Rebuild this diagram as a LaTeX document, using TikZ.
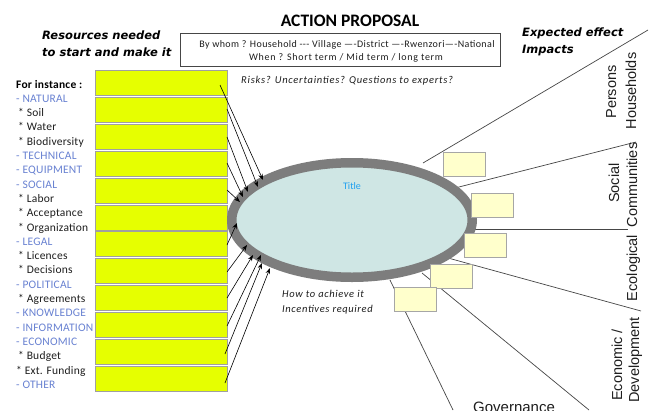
\documentclass[tikz,border=0pt]{standalone}
\usepackage{fontspec}
\setmainfont{Carlito}
\newfontfamily\verd{DejaVu Sans}
\newfontfamily\arialf{Liberation Sans}
\usetikzlibrary{arrows.meta}
\definecolor{ybox}{RGB}{230,255,0}
\definecolor{yborder}{RGB}{160,160,160}
\definecolor{catblue}{RGB}{105,130,210}
\definecolor{txt}{RGB}{30,30,30}
\definecolor{ringgray}{RGB}{125,125,125}
\definecolor{ellfill}{RGB}{207,230,228}
\definecolor{titleblue}{RGB}{30,160,240}
\definecolor{sfill}{RGB}{255,255,204}
\definecolor{sborder}{RGB}{166,166,166}
\definecolor{rline}{RGB}{70,70,70}
\tikzset{
  lefttxt/.style={anchor=base west, inner sep=0pt, font=\fontsize{11.5}{13}\selectfont\addfontfeature{LetterSpace=2}},
  yellowbox/.style={draw=yborder, line width=0.8pt, fill=ybox, minimum width=132pt, minimum height=25pt, anchor=north west, inner sep=0pt},
  smallbox/.style={draw=sborder, line width=0.8pt, fill=sfill, minimum width=42pt, minimum height=24pt, inner sep=0pt},
  resarrow/.style={draw=black, line width=0.6pt, -{Stealth[length=6pt,width=4.5pt]}},
  sector/.style={draw=rline, line width=0.7pt},
  sidelabel/.style={anchor=base, rotate=90, inner sep=0pt, font=\arialf\fontsize{14.5}{16}\selectfont, text=txt},
  bolditalic/.style={anchor=base west, inner sep=0pt, font=\verd\bfseries\itshape\fontsize{11.5}{13}\selectfont, text=black},
  itnote/.style={anchor=base west, inner sep=0pt, font=\itshape\fontsize{10.5}{12}\selectfont\addfontfeature{LetterSpace=6}, text=txt}
}
\begin{document}
\begin{tikzpicture}[x=1pt,y=-1pt]
\useasboundingbox (0,0) rectangle (651,410);
\fill[white] (0,0) rectangle (651,410);

% headings
\node[anchor=base, inner sep=0pt, font=\bfseries\fontsize{17.5}{19}\selectfont, text=black] (title) at (350,26) {ACTION PROPOSAL};
\node[bolditalic] (res1) at (42,39) {Resources needed};
\node[bolditalic] (res2) at (42,56) {to start and make it};
\node[bolditalic] (exp1) at (522,36) {Expected effect};
\node[bolditalic] (exp2) at (522,53) {Impacts};

% top box
\node[draw=rline, line width=0.8pt, minimum width=320pt, minimum height=33pt, anchor=north west, inner sep=0pt] (whobox) at (180,33) {};
\node[anchor=base, inner sep=0pt, font=\fontsize{10}{11}\selectfont\addfontfeature{LetterSpace=4}, text=txt] (who1) at (347,47.5) {By whom ? Household {-}{-}{-} Village —{-}District —{-}Rwenzori—{-}National};
\node[anchor=base, inner sep=0pt, font=\fontsize{10}{11}\selectfont\addfontfeature{LetterSpace=7}, text=txt] (who2) at (346,60.5) {When ? Short term / Mid term / long term};
\node[itnote, font=\itshape\fontsize{10.5}{12}\selectfont\addfontfeature{LetterSpace=7}] (risks) at (241,83) {Risks? Uncertainties? Questions to experts?};

% left list
\node[lefttxt, font=\bfseries\fontsize{11.5}{13}\selectfont\addfontfeature{LetterSpace=2}, text=black] (l0) at (16,88) {For instance :};
\foreach \t/\c/\dx [count=\i] in {
  - NATURAL/catblue/0, * Soil/txt/2, * Water/txt/2, * Biodiversity/txt/2,
  - TECHNICAL/catblue/0, - EQUIPMENT/catblue/0, - SOCIAL/catblue/0,
  * Labor/txt/2, * Acceptance/txt/2, * Organization/txt/2,
  - LEGAL/catblue/0, * Licences/txt/2, * Decisions/txt/2,
  - POLITICAL/catblue/0, * Agreements/txt/2,
  - KNOWLEDGE/catblue/0, - INFORMATION/catblue/0, - ECONOMIC/catblue/0,
  * Budget/txt/2, * Ext. Funding/txt/0, - OTHER/catblue/0}
  \node[lefttxt, text=\c] (l\i) at ({16+\dx},{88+14.3*\i}) {\t};

% yellow boxes
\foreach \i in {0,...,11}
  \node[yellowbox] (y\i) at (95,{70+26.9*\i}) {};

% sector lines (behind ellipse)
\coordinate (r1a) at (423,163); \coordinate (r1b) at (648,30);
\coordinate (r2a) at (455,188); \coordinate (r2b) at (636,142);
\coordinate (r3a) at (470,229); \coordinate (r3b) at (628,229);
\coordinate (r4a) at (448,258); \coordinate (r4b) at (641,311);
\coordinate (r5a) at (422,273); \coordinate (r5b) at (589,410);
\coordinate (r6a) at (390,280); \coordinate (r6b) at (453,410);
\foreach \k in {1,...,6} \draw[sector] (r\k a) -- (r\k b);

% central ellipse
\draw[draw=ringgray, line width=9.5pt, fill=ellfill] (352,220) ellipse [x radius=120.25pt, y radius=57.25pt];
\node[inner sep=0pt, font=\fontsize{10}{12}\selectfont, text=titleblue] (ttl) at (352,186) {Title};
\node[itnote] (how1) at (282,297) {How to achieve it};
\node[itnote] (how2) at (282,312) {Incentives required};

% small boxes
\node[smallbox] (b1) at (464,164) {};
\node[smallbox] (b2) at (492.5,205.5) {};
\node[smallbox] (b3) at (485.5,245.5) {};
\node[smallbox] (b4) at (451,276.5) {};
\node[smallbox] (b5) at (415.5,299) {};

% resource arrows
\coordinate (s1) at (220,85);  \coordinate (e1) at (263,180);
\coordinate (s2) at (227,109); \coordinate (e2) at (258,187);
\coordinate (s3) at (227,137); \coordinate (e3) at (248,192);
\coordinate (s4) at (227,163); \coordinate (e4) at (243,197);
\coordinate (s5) at (227,190); \coordinate (e5) at (240,202);
\coordinate (s6) at (227,245); \coordinate (e6) at (237,223);
\coordinate (s7) at (227,272); \coordinate (e7) at (247,245);
\coordinate (s8) at (227,298); \coordinate (e8) at (253,255);
\coordinate (s9) at (227,326); \coordinate (e9) at (261,255);
\coordinate (s10) at (225,354); \coordinate (e10) at (262,263);
\coordinate (s11) at (225,383); \coordinate (e11) at (270,268);
\foreach \k in {1,...,11} \draw[resarrow] (s\k) -- (e\k);

% side labels
\node[sidelabel] (persons) at (616,92) {Persons};
\node[sidelabel] (households) at (636,91) {Households};
\node[sidelabel] (social) at (619,183) {Social};
\node[sidelabel] (communities) at (637,185) {Communities};
\node[sidelabel] (ecological) at (637,268) {Ecological};
\node[sidelabel] (economic) at (622,365) {Economic /};
\node[sidelabel] (development) at (639,360) {Development};
\node[anchor=base west, inner sep=0pt, font=\arialf\fontsize{15}{17}\selectfont, text=txt] (gov) at (473,412.5) {Governance};
\end{tikzpicture}
\end{document}
